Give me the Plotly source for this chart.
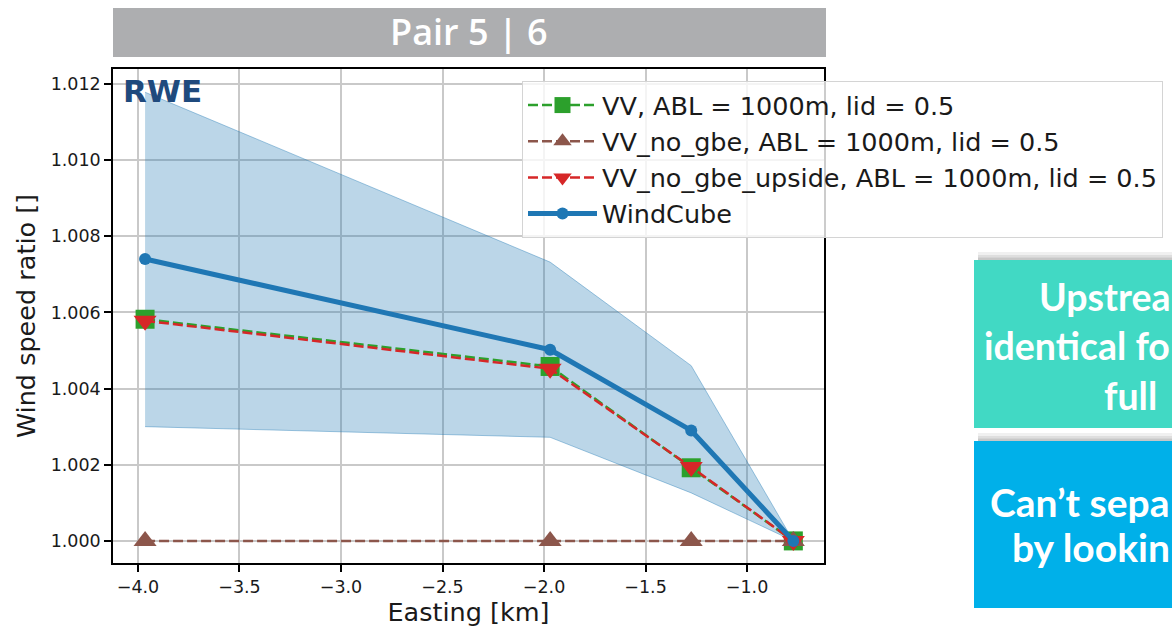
import plotly.graph_objects as go

# ---- data -------------------------------------------------------------
easting_km = [-3.965, -1.97, -1.275, -0.772]

vv = [1.00582, 1.00458, 1.00192, 1.0]
vv_no_gbe = [1.0, 1.0, 1.0, 1.0]
vv_no_gbe_upside = [1.00578, 1.00452, 1.00194, 1.0]
windcube = [1.0074, 1.00502, 1.0029, 1.0]
windcube_upper = [1.01178, 1.00732, 1.0046, 1.0]
windcube_lower = [1.0030, 1.00272, 1.00126, 1.0]

series_names = [
    "VV, ABL = 1000m, lid = 0.5",
    "VV_no_gbe, ABL = 1000m, lid = 0.5",
    "VV_no_gbe_upside, ABL = 1000m, lid = 0.5",
    "WindCube",
]

x_ticks = [-4.0, -3.5, -3.0, -2.5, -2.0, -1.5, -1.0]
x_tick_labels = ["−4.0", "−3.5", "−3.0", "−2.5", "−2.0", "−1.5", "−1.0"]
y_ticks = [1.000, 1.002, 1.004, 1.006, 1.008, 1.010, 1.012]
y_tick_labels = ["1.000", "1.002", "1.004", "1.006", "1.008", "1.010", "1.012"]

slide_title = "Pair 5 | 6"
teal_lines = ["Upstrea", "identical fo", "full"]
blue_lines = ["Can’t sepa", "by lookin"]

# ---- page geometry (pixels) -------------------------------------------
W, H = 1172, 627
L, R, T, B = 113, 824, 69, 563


def px(xp):
    return (xp - L) / (R - L)


def py(yp):
    return (B - yp) / (B - T)


C_BLUE = "#1f77b4"
C_GREEN = "#2ca02c"
C_BROWN = "#8c564b"
C_RED = "#d62728"

fig = go.Figure()

# WindCube spread band
fig.add_trace(go.Scatter(
    x=easting_km + easting_km[::-1],
    y=windcube_upper + windcube_lower[::-1],
    fill="toself",
    fillcolor="rgba(31,119,180,0.3)",
    line=dict(color="rgba(31,119,180,0.4)", width=1),
    mode="lines",
    showlegend=False,
    hoverinfo="skip",
))

fig.add_trace(go.Scatter(
    x=easting_km, y=vv, name=series_names[0], mode="lines+markers",
    line=dict(color=C_GREEN, width=2.5, dash="10px,4px"),
    marker=dict(symbol="square", size=19, color=C_GREEN),
))
fig.add_trace(go.Scatter(
    x=easting_km, y=vv_no_gbe, name=series_names[1], mode="lines+markers",
    line=dict(color=C_BROWN, width=2.5, dash="10px,4px"),
    marker=dict(symbol="triangle-up", size=20, color=C_BROWN),
))
fig.add_trace(go.Scatter(
    x=easting_km, y=vv_no_gbe_upside, name=series_names[2], mode="lines+markers",
    line=dict(color=C_RED, width=2.5, dash="10px,4px"),
    marker=dict(symbol="triangle-down", size=20, color=C_RED),
))
fig.add_trace(go.Scatter(
    x=easting_km, y=windcube, name=series_names[3], mode="lines+markers",
    line=dict(color=C_BLUE, width=5),
    marker=dict(symbol="circle", size=12, color=C_BLUE),
))

axis_common = dict(
    showline=True, linecolor="black", linewidth=1.5, mirror=True,
    ticks="outside", ticklen=7, tickwidth=1.5, tickcolor="black",
    showgrid=True, gridcolor="#c9c9c9", gridwidth=1.5, zeroline=False,
    tickfont=dict(family="DejaVu Sans", size=17.5, color="#1a1a1a"),
)

fig.update_xaxes(
    range=[-4.123, -0.621], tickvals=x_ticks, ticktext=x_tick_labels,
    title=dict(text="Easting [km]", standoff=6,
               font=dict(family="DejaVu Sans", size=25.5, color="#1a1a1a")),
    **axis_common,
)
fig.update_yaxes(
    range=[0.99942, 1.01239], tickvals=y_ticks, ticktext=y_tick_labels,
    title=dict(text="Wind speed ratio []", standoff=8,
               font=dict(family="DejaVu Sans", size=25.5, color="#1a1a1a")),
    **axis_common,
)

shapes = []
# slide title bar
shapes.append(dict(type="rect", xref="paper", yref="paper",
                   x0=px(113), x1=px(826), y0=py(57), y1=py(8),
                   fillcolor="#adaeb0", line=dict(width=0), layer="above"))


def boxed(y_top, y_bot, color):
    out = []
    # soft drop shadow along the top edge
    for (a, b, alpha) in [(y_top - 8, y_top - 5, 0.06),
                          (y_top - 5, y_top - 2.5, 0.13),
                          (y_top - 2.5, y_top, 0.22)]:
        out.append(dict(type="rect", xref="paper", yref="paper",
                        x0=px(978), x1=px(1200), y0=py(b), y1=py(a),
                        fillcolor=f"rgba(0,0,0,{alpha})", line=dict(width=0),
                        layer="above"))
    out.append(dict(type="rect", xref="paper", yref="paper",
                    x0=px(974), x1=px(1200), y0=py(y_bot), y1=py(y_top),
                    fillcolor=color, line=dict(width=0), layer="above"))
    return out


shapes += boxed(260, 428, "#41d9c4")
shapes += boxed(441, 608, "#00b0e9")

annotations = [
    dict(text=slide_title, xref="paper", yref="paper", x=px(469.5), y=py(32),
         xanchor="center", yanchor="middle", showarrow=False,
         font=dict(family="Open Sans", size=36, color="white", weight=600)),
    dict(text="<b>RWE</b>", xref="paper", yref="paper", x=px(121), y=py(91),
         xanchor="left", yanchor="middle", showarrow=False,
         font=dict(family="DejaVu Sans", size=31, color="#1f4a7d")),
]

# box texts run up to the right page edge; "full" sits centred in its line
box_text = [
    (teal_lines[0], 1171, 296, "right", 37.5),
    (teal_lines[1], 1171, 345, "right", 37.5),
    (teal_lines[2], 1103, 395, "left", 37.5),
    (blue_lines[0], 1171, 502, "right", 39),
    (blue_lines[1], 1171, 547, "right", 39),
]
for text, xp, yp, anchor, size in box_text:
    annotations.append(dict(
        text=text, xref="paper", yref="paper", x=px(xp), y=py(yp),
        xanchor=anchor, yanchor="middle", showarrow=False, borderpad=0,
        font=dict(family="Lato", size=size, color="white", weight="bold")))

fig.update_layout(
    width=W, height=H,
    margin=dict(l=L, r=W - R, t=T, b=H - B, autoexpand=False),
    paper_bgcolor="white", plot_bgcolor="white",
    shapes=shapes, annotations=annotations,
    legend=dict(
        x=px(522), y=py(81), xanchor="left", yanchor="top",
        bgcolor="rgba(255,255,255,0.8)", bordercolor="#d4d4d4", borderwidth=1,
        font=dict(family="DejaVu Sans", size=25.5, color="#1a1a1a"),
        itemwidth=69, itemsizing="trace",
    ),
    showlegend=True,
)

fig.write_html("out.html")
